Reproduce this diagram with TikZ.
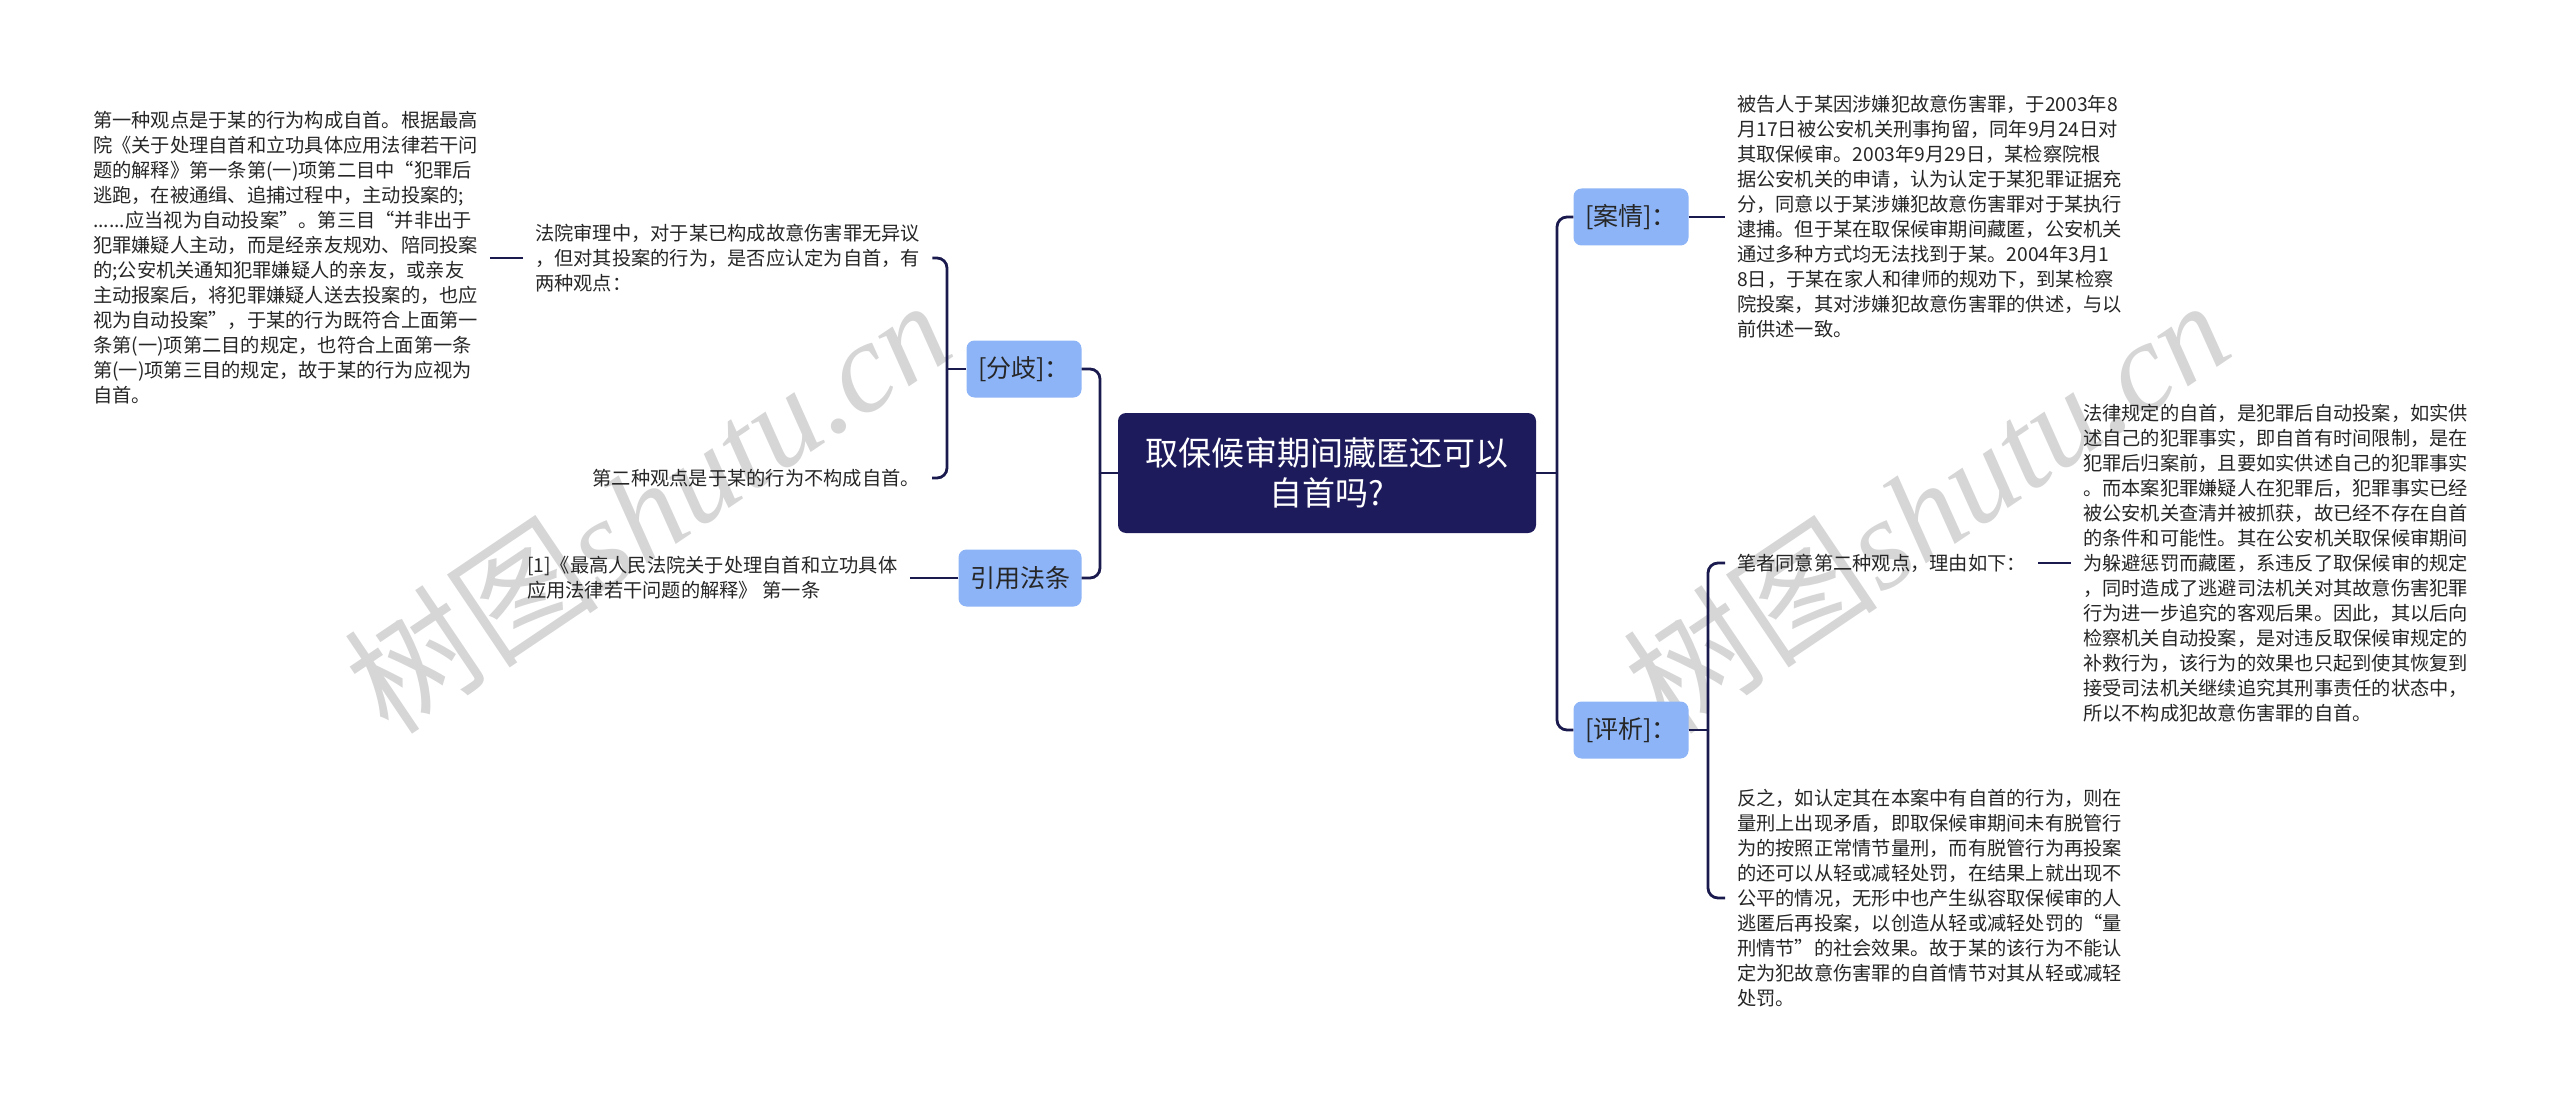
\documentclass[tikz,border=0pt]{standalone}
\usepackage{fontspec}
\setmainfont{Noto Sans CJK SC}
\newfontfamily\wmlatin{Liberation Serif}
\definecolor{rootc}{HTML}{1E1B5C}
\definecolor{topicc}{HTML}{8DB4F6}
\definecolor{linec}{HTML}{1A1A4E}
\definecolor{textc}{HTML}{262626}
\definecolor{wmc}{HTML}{D6D6D6}
\begin{document}
\begin{tikzpicture}[x=1pt,y=-1pt,
  conn/.style={draw=linec, line width=2.8pt, rounded corners=10pt},
  rootbox/.style={fill=rootc, rounded corners=8pt, minimum width=418pt, minimum height=120pt,
    text=white, font=\fontsize{33}{40}\selectfont, align=center, inner sep=0pt},
  topic/.style={fill=topicc, rounded corners=8pt, minimum width=115pt, minimum height=57pt,
    font=\fontsize{25}{30}\selectfont, text=textc, inner sep=0pt},
  leaf/.style={font=\fontsize{19.25}{25}\selectfont, text=textc, align=left, inner xsep=12pt, inner ysep=3pt},
  wm/.style={text=wmc, font=\fontsize{128}{130}\selectfont, inner sep=0pt}
]
\useasboundingbox (0,0) rectangle (2560,1102);

% watermarks
\node[wm, rotate=34] (wm1) at (647,505) {树图{\wmlatin\itshape shutu.cn}};
\node[wm, rotate=34] (wm2) at (1926,505) {树图{\wmlatin\itshape shutu.cn}};

% root and topics
\node[rootbox] (root) at (1327,473) {取保候审期间藏匿还可以\\自首吗?};
\node[topic] (fenqi) at (1024,369) {[分歧]：};
\node[topic, minimum width=123pt] (yinyong) at (1020,578) {引用法条};
\node[topic] (anqing) at (1631,217) {[案情]：};
\node[topic] (pingxi) at (1631,730) {[评析]：};

\coordinate (jl) at (1100,473);
\coordinate (jf) at (947,369);
\coordinate (jr) at (1557,473);
\coordinate (jp) at (1708,730);

% left leaves
\node[leaf, anchor=west] (b1) at (81,258) {第一种观点是于某的行为构成自首。根据最高\\
院《关于处理自首和立功具体应用法律若干问\\
题的解释》第一条第(一)项第二目中“犯罪后\\
逃跑，在被通缉、追捕过程中，主动投案的;\\
......应当视为自动投案”。第三目“并非出于\\
犯罪嫌疑人主动，而是经亲友规劝、陪同投案\\
的;公安机关通知犯罪嫌疑人的亲友，或亲友\\
主动报案后，将犯罪嫌疑人送去投案的，也应\\
视为自动投案”，于某的行为既符合上面第一\\
条第(一)项第二目的规定，也符合上面第一条\\
第(一)项第三目的规定，故于某的行为应视为\\
自首。};
\node[leaf, anchor=west] (b2) at (523,258) {法院审理中，对于某已构成故意伤害罪无异议\\
，但对其投案的行为，是否应认定为自首，有\\
两种观点：};
\node[leaf, anchor=east] (b3) at (932,478) {第二种观点是于某的行为不构成自首。};
\node[leaf, anchor=west] (yy1) at (515,578) {[1]《最高人民法院关于处理自首和立功具体\\
应用法律若干问题的解释》 第一条};

% right leaves
\node[leaf, anchor=west] (anq) at (1725,217) {被告人于某因涉嫌犯故意伤害罪，于2003年8\\
月17日被公安机关刑事拘留，同年9月24日对\\
其取保候审。2003年9月29日，某检察院根\\
据公安机关的申请，认为认定于某犯罪证据充\\
分，同意以于某涉嫌犯故意伤害罪对于某执行\\
逮捕。但于某在取保候审期间藏匿，公安机关\\
通过多种方式均无法找到于某。2004年3月1\\
8日，于某在家人和律师的规劝下，到某检察\\
院投案，其对涉嫌犯故意伤害罪的供述，与以\\
前供述一致。};
\node[leaf, anchor=west] (bizhe) at (1725,563) {笔者同意第二种观点，理由如下：};
\node[leaf, anchor=west] (falv) at (2071,563) {法律规定的自首，是犯罪后自动投案，如实供\\
述自己的犯罪事实，即自首有时间限制，是在\\
犯罪后归案前，且要如实供述自己的犯罪事实\\
。而本案犯罪嫌疑人在犯罪后，犯罪事实已经\\
被公安机关查清并被抓获，故已经不存在自首\\
的条件和可能性。其在公安机关取保候审期间\\
为躲避惩罚而藏匿，系违反了取保候审的规定\\
，同时造成了逃避司法机关对其故意伤害犯罪\\
行为进一步追究的客观后果。因此，其以后向\\
检察机关自动投案，是对违反取保候审规定的\\
补救行为，该行为的效果也只起到使其恢复到\\
接受司法机关继续追究其刑事责任的状态中，\\
所以不构成犯故意伤害罪的自首。};
\node[leaf, anchor=west] (fanzhi) at (1725,898) {反之，如认定其在本案中有自首的行为，则在\\
量刑上出现矛盾，即取保候审期间未有脱管行\\
为的按照正常情节量刑，而有脱管行为再投案\\
的还可以从轻或减轻处罚，在结果上就出现不\\
公平的情况，无形中也产生纵容取保候审的人\\
逃匿后再投案，以创造从轻或减轻处罚的“量\\
刑情节”的社会效果。故于某的该行为不能认\\
定为犯故意伤害罪的自首情节对其从轻或减轻\\
处罚。};

% connectors
\draw[conn] (root.west) -- (jl);
\draw[conn] (jl) |- (fenqi.east);
\draw[conn] (jl) |- (yinyong.east);
\draw[conn] (fenqi.west) -- (jf);
\draw[conn] (jf) |- (b2.east);
\draw[conn] (jf) |- (b3.east);
\draw[conn] (b2.west) -- (b1.east);
\draw[conn] (yinyong.west) -- (yy1.east);
\draw[conn] (root.east) -- (jr);
\draw[conn] (jr) |- (anqing.west);
\draw[conn] (jr) |- (pingxi.west);
\draw[conn] (anqing.east) -- (anq.west);
\draw[conn] (pingxi.east) -- (jp);
\draw[conn] (jp) |- (bizhe.west);
\draw[conn] (jp) |- (fanzhi.west);
\draw[conn] (bizhe.east) -- (falv.west);
\end{tikzpicture}
\end{document}
